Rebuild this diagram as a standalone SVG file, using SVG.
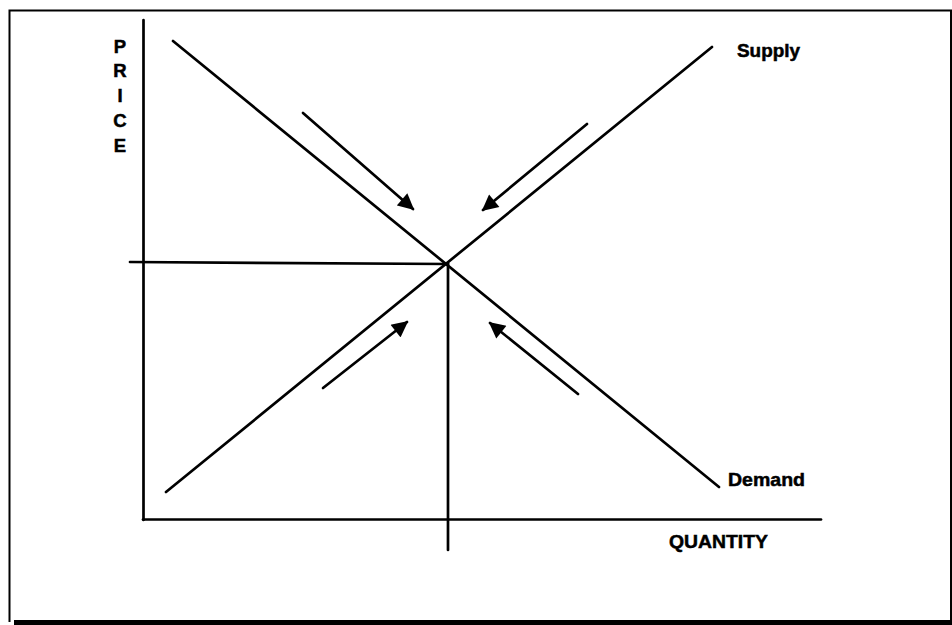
<svg xmlns="http://www.w3.org/2000/svg" width="952" height="625" viewBox="0 0 952 625">
<style>
.ln{stroke:#000;stroke-width:2.7;fill:none;stroke-linecap:round}
.ar{stroke:#000;stroke-width:2.7;fill:none;stroke-linecap:round}
.lbl{font-family:"Liberation Sans",Arial,sans-serif;font-weight:bold;fill:#000;stroke:#000;stroke-width:0.5}
</style>
<defs>
<marker id="ah" viewBox="0 0 10 10" refX="9" refY="5" markerWidth="6.5" markerHeight="6" markerUnits="strokeWidth" orient="auto">
<path d="M0,0 L10,5 L0,10 Z" fill="#000"/>
</marker>
</defs>
<rect x="0" y="0" width="952" height="625" fill="#fff"/>
<g id="frame">
<path d="M9.5,622 L9.5,10.5 L951,10.5 L951,621" fill="none" stroke="#000" stroke-width="2"/>
<rect x="14" y="620" width="938" height="5" fill="#000"/>
</g>
<g id="axes">
<line class="ln" x1="143.5" y1="20" x2="143.5" y2="520"/>
<line class="ln" x1="143" y1="519.5" x2="821" y2="519.5"/>
</g>
<g id="connectors">
<line class="ln" x1="173" y1="41" x2="719" y2="487"/>
<line class="ln" x1="166" y1="492" x2="712" y2="47"/>
<line class="ln" x1="130" y1="262" x2="448" y2="264"/>
<line class="ln" x1="448" y1="263" x2="448" y2="550"/>
<line class="ar" x1="303" y1="113" x2="413" y2="209" marker-end="url(#ah)"/>
<line class="ar" x1="587" y1="124" x2="483" y2="210" marker-end="url(#ah)"/>
<line class="ar" x1="323" y1="388" x2="407" y2="322" marker-end="url(#ah)"/>
<line class="ar" x1="578" y1="394" x2="490" y2="323" marker-end="url(#ah)"/>
</g>
<g id="price-label" class="lbl" font-size="18.5" text-anchor="middle">
<text x="120" y="53">P</text>
<text x="120" y="77">R</text>
<text x="120" y="102">I</text>
<text x="120" y="127">C</text>
<text x="120" y="152">E</text>
</g>
<g id="supply-label"><text class="lbl" x="737" y="57" font-size="18" textLength="63" lengthAdjust="spacingAndGlyphs">Supply</text></g>
<g id="demand-label"><text class="lbl" x="728" y="486" font-size="18.5" textLength="77" lengthAdjust="spacingAndGlyphs">Demand</text></g>
<g id="quantity-label"><text class="lbl" x="669" y="548" font-size="19" textLength="99" lengthAdjust="spacingAndGlyphs">QUANTITY</text></g>
</svg>
